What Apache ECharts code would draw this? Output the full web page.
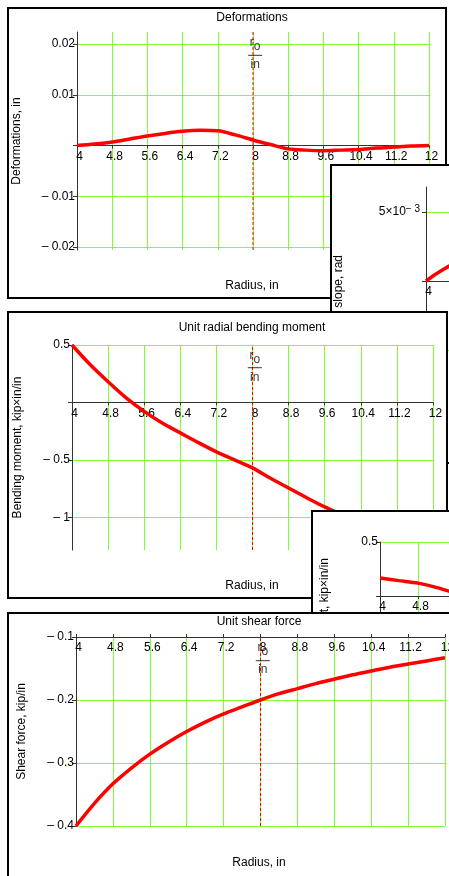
<!DOCTYPE html>
<html>
<head>
<meta charset="utf-8">
<script src="https://cdn.jsdelivr.net/npm/echarts@6/dist/echarts.min.js"></script>
<style>
body{margin:0;background:#fff;overflow:hidden;width:449px;height:876px;position:relative}
.panel{position:absolute;box-sizing:border-box;border:2px solid #000;background:#fff}
</style>
</head>
<body>
<div class="panel" id="p1" style="left:7px;top:7px;width:440px;height:292px"></div>
<div class="panel" id="pA" style="left:330px;top:164px;width:460px;height:300px"></div>
<div class="panel" id="p2" style="left:7px;top:311px;width:441px;height:288px"></div>
<div class="panel" id="pB" style="left:311px;top:510px;width:460px;height:300px"></div>
<div class="panel" id="p3" style="left:7px;top:612px;width:460px;height:300px"></div>
<script>
// radius stations, in
var radius = [4, 4.4, 4.8, 5.2, 5.6, 6.0, 6.4, 6.8, 7.2, 7.6, 8, 8.4, 8.8, 9.2, 9.6, 10.0, 10.4, 10.8, 11.2, 11.6, 12];
var deformation = [0, 0.0003, 0.0007, 0.0013, 0.0019, 0.0024, 0.0028, 0.0030, 0.0029, 0.0021, 0.0011, 0.0002, -0.00065, -0.0009, -0.001, -0.0009, -0.0008, -0.0005, -0.0003, -0.0001, 0];
var moment = [0.5, 0.33, 0.18, 0.04, -0.078, -0.18, -0.265, -0.35, -0.43, -0.5, -0.57, -0.66, -0.745, -0.83, -0.91, -0.98, -1.04, -1.09, -1.14, -1.18, -1.22];
var shear = [-0.4, -0.364, -0.333, -0.308, -0.286, -0.267, -0.25, -0.235, -0.222, -0.211, -0.2, -0.19, -0.182, -0.174, -0.167, -0.16, -0.154, -0.148, -0.143, -0.138, -0.133];
// partly hidden panels
var slopeR = [4, 4.2, 4.4, 4.6, 4.8, 5.6, 6.4, 7.2, 8, 8.8, 9.6, 10.4, 11.2, 12];
var slope = [0, 0.00045, 0.00085, 0.0012, 0.0015, 0.002, 0.0015, 0.0003, -0.001, -0.0012, -0.0005, 0, 0.0002, 0.0001];
var tangR = [4, 4.4, 4.8, 5.2, 5.6, 6.4, 7.2, 8, 8.8, 9.6, 10.4, 11.2, 12];
var tangMoment = [0.167, 0.143, 0.12, 0.078, 0.025, -0.08, -0.19, -0.3, -0.4, -0.48, -0.55, -0.61, -0.66];

var rO = 8;
var defTicks = [-0.02, -0.01, 0, 0.01, 0.02];
var momTicks = [-1, -0.5, 0, 0.5];
var shearTicks = [-0.4, -0.3, -0.2, -0.1];
var slopeTicks = [-0.005, 0, 0.005];

var FONT = '"Liberation Sans", Arial, sans-serif';
var GREEN = '#80ff30';
var AXIS = '#333';

function pairs(xs, ys) {
  return xs.map(function (x, i) { return [x, ys[i]]; });
}
function mcNum(v) {
  if (v === 0) return '';
  return v < 0 ? '\u2013 ' + (-v) : String(v);
}
function sciNum(v) {
  if (v === 0) return '';
  return (v < 0 ? '{m|\u2013 5\u00d710}' : '{m|5\u00d710}') + '{e|\u2212 3}';
}

function plotOption(c) {
  var txt = {fontFamily: FONT, fontSize: 12, color: '#000', fontWeight: 'normal'};
  var series = [{
    type: 'line', data: c.points, smooth: 0.3, symbol: 'none',
    lineStyle: {color: '#ff0000', width: 3.5}, animation: false, z: 3
  }];
  if (c.ro) {
    // r_o marker: dashed vertical line + fraction label
    series.push({
      type: 'line', data: [[rO, c.yMin], [rO, c.yMax]], symbol: 'none', silent: true,
      animation: false, z: 4,
      lineStyle: {color: '#ff0000', type: [3, 2], width: 1}
    });
    series.push({
      type: 'scatter', data: [c.ro], symbolSize: 0, silent: true, animation: false, z: 5,
      label: {
        show: true, position: 'inside', formatter: '{r|r}{o|o}\n{b| }\n{i|in}',
        rich: {
          r: {fontFamily: FONT, fontSize: 12, color: '#000', lineHeight: 16, verticalAlign: 'top'},
          o: {fontFamily: FONT, fontSize: 12, color: '#000', lineHeight: 16, verticalAlign: 'bottom'},
          b: {width: 14, height: 1, fontSize: 1, lineHeight: 5, backgroundColor: '#000'},
          i: {fontFamily: FONT, fontSize: 12, color: '#000', lineHeight: 14}
        }
      }
    });
  }
  var titles = [];
  if (c.title) titles.push({text: c.title, left: c.cx, top: c.titleTop, textAlign: 'center', padding: 0, textStyle: txt});
  if (c.xName) titles.push({text: c.xName, left: c.cx, top: c.xNameTop, textAlign: 'center', padding: 0, textStyle: txt});

  var grid = c.grid;
  grid.containLabel = false;
  grid.outerBoundsMode = 'none';

  return {
    animation: false,
    title: titles,
    grid: grid,
    graphic: c.graphic || [],
    xAxis: {
      type: 'value', min: 4, max: 12, interval: 0.8,
      position: c.xTop ? 'top' : 'bottom',
      axisLine: {onZero: false, lineStyle: {color: AXIS, width: 1}},
      axisTick: {show: true, length: 3, lineStyle: {color: AXIS}},
      axisLabel: {
        inside: !!c.xTop, margin: 5, padding: [0, 0, 0, 5],
        fontFamily: FONT, fontSize: 12, color: '#000',
        formatter: function (v) { return String(+v.toFixed(1)); }
      },
      splitLine: {show: true, lineStyle: {color: GREEN, width: 1}}
    },
    yAxis: {
      type: 'value', min: c.yMin, max: c.yMax,
      name: c.yName || '', nameLocation: 'middle', nameRotate: 90, nameGap: c.yGap || 50,
      nameTextStyle: txt,
      axisLine: {show: true, onZero: false, lineStyle: {color: AXIS, width: 1}},
      axisTick: {show: true, length: 4, customValues: c.yTicks, lineStyle: {color: AXIS}},
      axisLabel: {
        customValues: c.yTicks, margin: c.yMargin || 2,
        fontFamily: FONT, fontSize: 12, color: '#000',
        formatter: c.yFmt || mcNum,
        rich: {
          m: {fontFamily: FONT, fontSize: 12, color: '#000'},
          e: {fontFamily: FONT, fontSize: 10, color: '#000', verticalAlign: 'top', padding: [0, 0, 6, 0]}
        }
      },
      splitLine: {show: true, lineStyle: {color: GREEN, width: 1}}
    },
    series: series
  };
}

function rotName(text, x, y) {
  return {
    type: 'text', x: x, y: y, rotation: Math.PI / 2, silent: true,
    style: {text: text, font: '12px ' + FONT, fill: '#000', textAlign: 'right', textVerticalAlign: 'middle'}
  };
}

// Mathcad style: the x axis crosses the y axis at zero
function draw(id, cfg) {
  var chart = echarts.init(document.getElementById(id));
  chart.setOption(plotOption(cfg));
  if (!cfg.xTop && cfg.yMin < 0 && cfg.yMax > 0) {
    var zeroPx = chart.convertToPixel({yAxisIndex: 0}, 0);
    var bottomPx = chart.convertToPixel({yAxisIndex: 0}, cfg.yMin);
    chart.setOption({xAxis: {offset: -(bottomPx - zeroPx)}});
  }
  return chart;
}

draw('p1', {
  points: pairs(radius, deformation),
  grid: {left: 68, top: 23, right: 16, bottom: 47},
  yMin: -0.0206, yMax: 0.0224, yTicks: defTicks,
  yName: 'Deformations, in', yGap: 54,
  title: 'Deformations', xName: 'Radius, in', cx: 243, titleTop: 3, xNameTop: 271,
  ro: [8.05, 0.018]
});

draw('pA', {
  points: pairs(slopeR, slope),
  grid: {left: 94, top: 21, right: 10, bottom: 87},
  yMin: -0.0068, yMax: 0.0068, yTicks: slopeTicks, yFmt: sciNum, yMargin: 6,
  graphic: [rotName('Radial slope, rad', 7, 89)]
});

draw('p2', {
  points: pairs(radius, moment),
  grid: {left: 63, top: 32, right: 13, bottom: 47},
  yMin: -1.285, yMax: 0.5, yTicks: momTicks,
  yName: 'Bending moment, kip\u00d7in/in', yGap: 48,
  title: 'Unit radial bending moment', xName: 'Radius, in', cx: 243, titleTop: 9, xNameTop: 267,
  ro: [8.05, 0.311]
});

draw('pB', {
  points: pairs(tangR, tangMoment),
  grid: {left: 67, top: 30, right: 9, bottom: 82},
  yMin: -1.2, yMax: 0.5, yTicks: momTicks,
  graphic: [rotName('Tangential moment, kip\u00d7in/in', 12, 46)]
});

draw('p3', {
  points: pairs(radius, shear),
  grid: {left: 67, top: 23, right: 20, bottom: 84},
  yMin: -0.4, yMax: -0.1, yTicks: shearTicks, xTop: true,
  yName: 'Shear force, kip/in', yGap: 48,
  title: 'Unit shear force', xName: 'Radius, in', cx: 250, titleTop: 2, xNameTop: 243,
  ro: [8.05, -0.136]
});
</script>
</body>
</html>
